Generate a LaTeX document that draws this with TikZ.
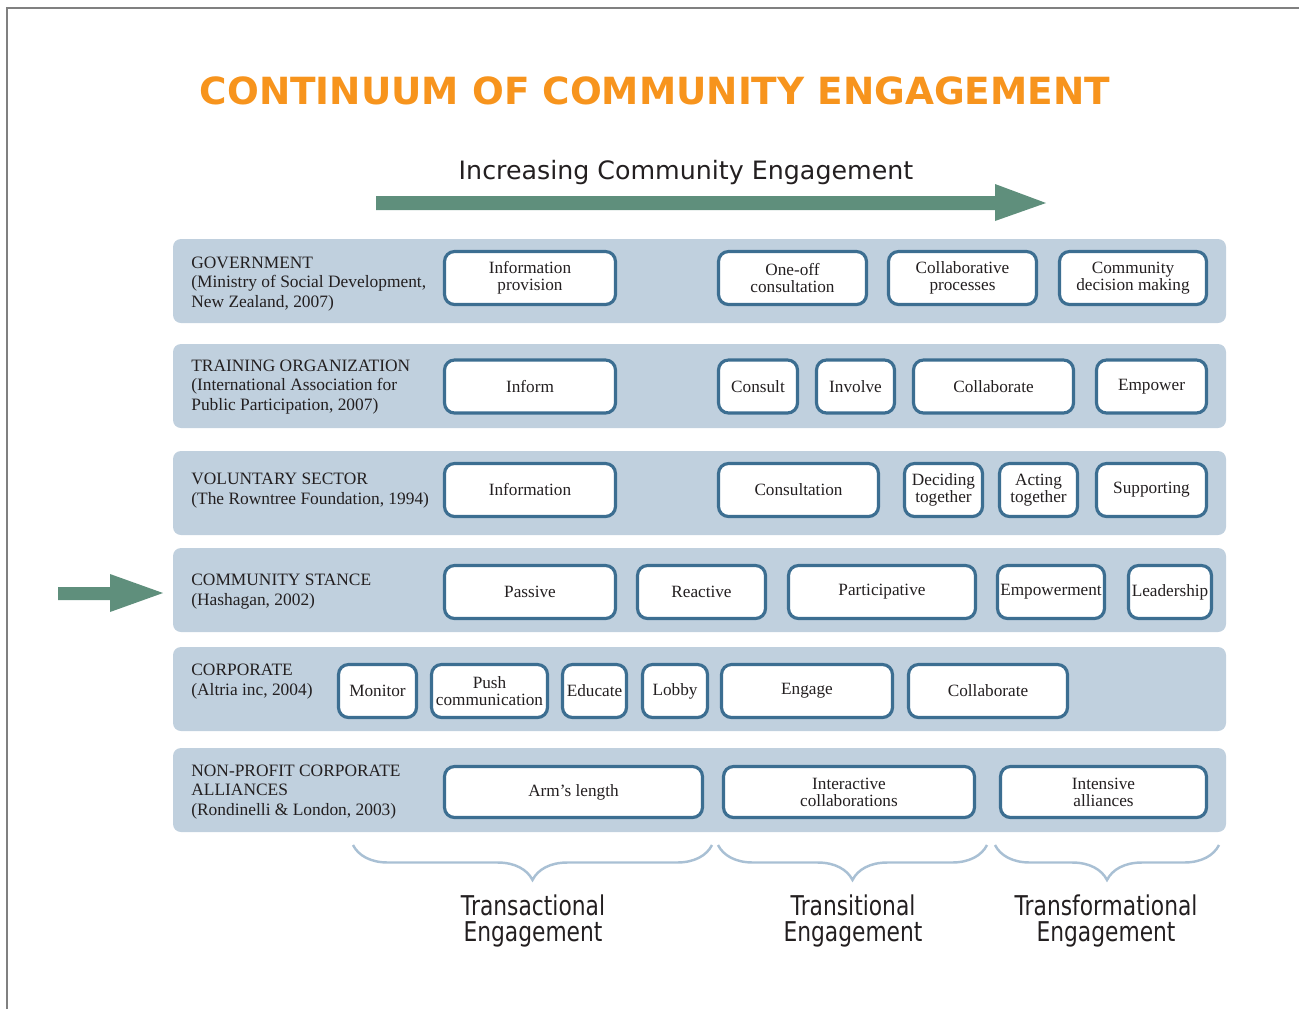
\documentclass[tikz,border=0pt]{standalone}
\usepackage{fontspec}
\setmainfont{Liberation Serif}
\newfontfamily\headfont{DejaVu Sans}
\newfontfamily\narrowfont[FakeStretch=0.8]{DejaVu Sans}
\usetikzlibrary{decorations.pathreplacing}

\definecolor{bandblue}{HTML}{C0D0DE}
\definecolor{edgeblue}{HTML}{3C6E91}
\definecolor{arrowgreen}{HTML}{5F8F7C}
\definecolor{braceblue}{HTML}{A9C0D4}
\definecolor{titleorange}{HTML}{F7941D}
\definecolor{inkgray}{HTML}{231F20}

\tikzset{
  band/.style={fill=bandblue, rounded corners=0.16cm},
  stage/.style={draw=edgeblue, line width=1.8pt, fill=white, rounded corners=0.2cm,
    minimum height=1.06cm, inner sep=0.5pt, align=center, text=inkgray,
    font=\fontsize{9.8}{9.6}\selectfont},
  source/.style={anchor=west, align=left, inner sep=0pt, text=inkgray,
    font=\fontsize{9.9}{11.3}\selectfont},
  bracket/.style={draw=braceblue, line width=1.4pt, decorate,
    decoration={brace, mirror, amplitude=0.7cm}},
  kind/.style={align=center, inner sep=0pt, text=inkgray,
    font=\narrowfont\fontsize{15.5}{14.7}\selectfont}
}

\begin{document}
\begin{tikzpicture}[x=0.02cm, y=-0.02cm]
  \useasboundingbox (0,0) rectangle (1299,1009);
  \draw[gray, line width=0.6pt] (7,1009) -- (7,8) -- (1299,8);

  \node[font=\headfont\bfseries\fontsize{21.3}{21.3}\selectfont, text=titleorange]
    (title) at (655,91) {CONTINUUM OF COMMUNITY ENGAGEMENT};
  \node[font=\headfont\fontsize{14.4}{14.4}\selectfont, text=inkgray]
    (trend) at (686,173) {Increasing Community Engagement};
  \fill[arrowgreen] (376,196) -- (995,196) -- (995,184) -- (1046,203)
    -- (995,221) -- (995,210) -- (376,210) -- cycle;
  \fill[arrowgreen] (58,587) -- (110,587) -- (110,574) -- (163,593)
    -- (110,612) -- (110,600) -- (58,600) -- cycle;

  % bands
  \fill[band] (173,239) rectangle (1226,323);
  \fill[band] (173,344) rectangle (1226,428);
  \fill[band] (173,451) rectangle (1226,535);
  \fill[band] (173,548) rectangle (1226,632);
  \fill[band] (173,647) rectangle (1226,731);
  \fill[band] (173,748) rectangle (1226,832);

  % government
  \node[source] (gov) at (191,284)
    {GOVERNMENT\\(Ministry of Social Development,\\New Zealand, 2007)};
  \node[stage, minimum width=3.42cm] (gov1) at (530,278) {Information\\provision};
  \node[stage, minimum width=2.96cm] (gov2) at (792.5,278) {One-off\\consultation};
  \node[stage, minimum width=2.96cm] (gov3) at (962.5,278) {Collaborative\\processes};
  \node[stage, minimum width=2.94cm] (gov4) at (1133,278) {Community\\decision making};

  % training organization
  \node[source] (train) at (191,387)
    {TRAINING ORGANIZATION\\(International Association for\\Public Participation, 2007)};
  \node[stage, minimum width=3.42cm] (train1) at (530,386.5) {Inform};
  \node[stage, minimum width=1.58cm] (train2) at (758,386.5) {Consult};
  \node[stage, minimum width=1.56cm] (train3) at (855.5,386.5) {Involve};
  \node[stage, minimum width=3.20cm] (train4) at (993.5,386.5) {Collaborate};
  \node[stage, minimum width=2.20cm] (train5) at (1151.5,386.5) {Empower};

  % voluntary sector
  \node[source] (vol) at (191,491)
    {VOLUNTARY SECTOR\\(The Rowntree Foundation, 1994)};
  \node[stage, minimum width=3.42cm] (vol1) at (530,490) {Information};
  \node[stage, minimum width=3.20cm] (vol2) at (798.5,490) {Consultation};
  \node[stage, minimum width=1.56cm] (vol3) at (943.5,490) {Deciding\\together};
  \node[stage, minimum width=1.56cm] (vol4) at (1038.5,490) {Acting\\together};
  \node[stage, minimum width=2.20cm] (vol5) at (1151.5,490) {Supporting};

  % community stance
  \node[source] (comm) at (191,592)
    {COMMUNITY STANCE\\(Hashagan, 2002)};
  \node[stage, minimum width=3.42cm] (comm1) at (530,592) {Passive};
  \node[stage, minimum width=2.56cm] (comm2) at (701.5,592) {Reactive};
  \node[stage, minimum width=3.74cm] (comm3) at (882,592) {Participative};
  \node[stage, minimum width=2.14cm] (comm4) at (1051,592) {Empowerment};
  \node[stage, minimum width=1.66cm] (comm5) at (1170,592) {Leadership};

  % corporate
  \node[source] (corp) at (191,682)
    {CORPORATE\\(Altria inc, 2004)};
  \node[stage, minimum width=1.56cm] (corp1) at (377.5,691) {Monitor};
  \node[stage, minimum width=2.32cm] (corp2) at (489.5,691) {Push\\communication};
  \node[stage, minimum width=1.28cm] (corp3) at (594.5,691) {Educate};
  \node[stage, minimum width=1.30cm] (corp4) at (675,691) {Lobby};
  \node[stage, minimum width=3.42cm] (corp5) at (807,691) {Engage};
  \node[stage, minimum width=3.18cm] (corp6) at (988,691) {Collaborate};

  % non-profit corporate alliances
  \node[source] (npo) at (191,792)
    {NON-PROFIT CORPORATE\\ALLIANCES\\(Rondinelli \& London, 2003)};
  \node[stage, minimum width=5.16cm, minimum height=1.02cm] (npo1) at (573.5,792) {Arm’s length};
  \node[stage, minimum width=5.02cm, minimum height=1.02cm] (npo2) at (849,792) {Interactive\\collaborations};
  \node[stage, minimum width=4.12cm, minimum height=1.02cm] (npo3) at (1103.5,792) {Intensive\\alliances};

  % engagement groups
  \draw[bracket] (353,845) -- (712,845);
  \draw[bracket] (718,845) -- (987,845);
  \draw[bracket] (995,845) -- (1219,845);
  \node[kind] (transact) at (533,921) {Transactional\\Engagement};
  \node[kind] (transit) at (853,921) {Transitional\\Engagement};
  \node[kind] (transform) at (1106,921) {Transformational\\Engagement};
\end{tikzpicture}
\end{document}
